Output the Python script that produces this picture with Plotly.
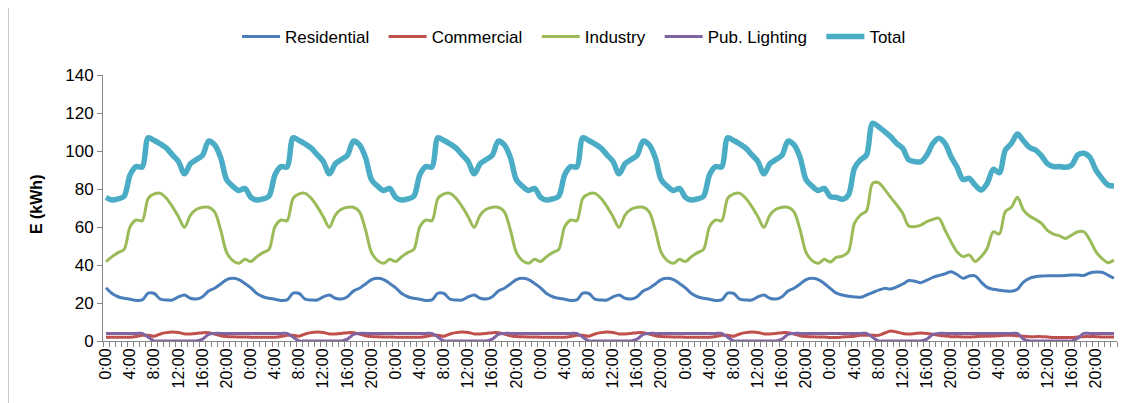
import plotly.graph_objects as go

# ---------------- data ----------------
n_weekdays = 5
label_hours = ["0:00", "4:00", "8:00", "12:00", "16:00", "20:00"]
label_step = 4

weekday_residential = [28, 25, 23.3, 22.5, 22, 21.3, 21.6, 25.2, 25, 22, 21.6, 21.6,
                       23.2, 24.2, 22.5, 22.1, 23.3, 26.3, 27.8, 30, 32.3, 33, 32.3, 30.3]
weekday_commercial = [2, 2, 2, 2, 2, 2.4, 3, 3, 2.5, 3.7, 4.4, 4.7,
                      4.5, 3.7, 3.7, 4, 4.4, 4.4, 3.6, 2.8, 2.4, 2.2, 2.1, 2.1]
weekday_industry = [41.8, 44.4, 46.5, 48.2, 60.2, 63.7, 63.3, 75.1, 77.4, 77.7, 75.1, 70.7,
                    65.4, 59.8, 66.3, 69.3, 70.4, 70.4, 68, 58.4, 46.5, 42.3, 40.9, 43]
weekday_publighting = [4, 4, 4, 4, 4, 4, 4, 2, 0, 0, 0, 0,
                       0, 0, 0, 0, 1, 3.5, 4, 4, 4, 4, 4, 4]
weekday_total = [75.6, 74.2, 74.8, 76.2, 87.5, 91.8, 91.6, 107, 105.5, 103.7, 101.5, 98,
                 94.5, 88, 93.3, 95.5, 97.8, 105.2, 103.2, 96.5, 84.8, 81.5, 79.2, 80.3]

day6_residential = [27.7, 25.2, 24.2, 23.5, 23.2, 23, 24.2, 25.5, 26.8, 27.7, 27.4, 28.5,
                    30, 31.8, 31.5, 30.7, 32, 33.5, 34.5, 35.3, 36.5, 35, 33, 34.2]
day6_commercial = [1.8, 1.9, 2.1, 2.3, 2.5, 3, 3, 3, 3, 4.2, 5.3, 4.7,
                   4, 3.7, 3.9, 4.2, 4, 3.5, 3, 2.6, 2.3, 2.3, 2.1, 2.1]
day6_industry = [41.6, 44, 44.7, 47, 61.9, 66.3, 68.5, 83, 83.3, 79.8, 75.6, 71.6,
                 67.2, 60.5, 60.2, 61, 62.8, 64, 64.6, 58.4, 52.3, 47, 44.4, 45.3]
day6_publighting = [4, 4, 4, 4, 4, 4, 4, 2, 0, 0, 0, 0,
                    0, 0, 0, 0, 1, 3.5, 4, 4, 4, 4, 4, 4]
day6_total = [76, 75.6, 74.6, 76.8, 90.9, 95.3, 97.9, 114.6, 112.8, 110.2, 107.5, 104,
              101.4, 95.3, 94.4, 94.4, 97.9, 104, 106.7, 104, 97, 91.5, 85, 85.6]

day7_residential = [34.3, 31, 28.2, 27.2, 26.7, 26.3, 26.2, 27.2, 31, 33, 33.8, 34.2,
                    34.3, 34.4, 34.4, 34.5, 34.7, 34.7, 34.5, 35.8, 36.3, 36.2, 34.7, 33]
day7_commercial = [2.3, 2.5, 2.5, 2.6, 2.8, 3, 3, 2.8, 2.5, 2.3, 2.3, 2.3,
                   2.1, 1.9, 1.8, 1.8, 1.9, 2.1, 2.3, 2.3, 2.3, 2.1, 2.1, 2.1]
day7_industry = [41.8, 44.4, 48.8, 57.5, 56.3, 68.1, 70.4, 75.6, 68.9, 65.8, 64, 61.9,
                 58.1, 56.3, 55.3, 54, 55.8, 57.5, 57.5, 53.2, 47, 43.5, 41.2, 42.6]
day7_publighting = [4, 4, 4, 4, 4, 4, 4, 4, 1, 0, 0, 0,
                    0, 0, 0, 0, 0, 1.5, 4, 4, 4, 4, 4, 4]
day7_total = [82.1, 79.5, 83, 90.4, 88.6, 100.5, 104, 108.9, 105.4, 101.9, 100.5, 97.4,
              93.2, 91.8, 91.8, 91.4, 92.6, 97.9, 98.8, 96.7, 90, 85.6, 82.1, 81.6]

series_names = ["Residential", "Commercial", "Industry", "Pub. Lighting", "Total"]
series_colors = ["#4A7EBB", "#C0504D", "#9BBB59", "#8064A2", "#4BACC6"]
series_widths = [3, 3, 3, 3, 5.5]

# ---------------- build series ----------------
residential = weekday_residential * n_weekdays + day6_residential + day7_residential
commercial = weekday_commercial * n_weekdays + day6_commercial + day7_commercial
industry = weekday_industry * n_weekdays + day6_industry + day7_industry
publighting = weekday_publighting * n_weekdays + day6_publighting + day7_publighting
total = weekday_total * n_weekdays + day6_total + day7_total
all_series = [residential, commercial, industry, publighting, total]

n_points = len(total)
hours_per_day = len(weekday_total)
x = list(range(n_points))
tickvals = list(range(0, n_points, label_step))
ticktext = [label_hours[(v % hours_per_day) // label_step] for v in tickvals]

pad = "\u00a0\u00a0"  # a little extra spacing between legend entries

fig = go.Figure()
for name, ys, col, w in zip(series_names, all_series, series_colors, series_widths):
    fig.add_trace(go.Scatter(
        x=x, y=ys, name=name + pad, mode="lines",
        line=dict(color=col, width=w, shape="spline", smoothing=0.9),
    ))

axis_col = "#868686"
# the page body has an 8px margin, so the figure is sized/offset to compensate
fig.update_layout(
    width=1125, height=395,
    margin=dict(l=95, r=16, t=67, b=62, autoexpand=False),
    paper_bgcolor="white", plot_bgcolor="white",
    font=dict(family="Liberation Sans, Arial, sans-serif", size=16, color="#000000"),
    showlegend=True,
    legend=dict(
        orientation="h", x=0.469, xanchor="center", y=1.143, yanchor="middle",
        itemwidth=38,
        font=dict(family="Liberation Sans, Arial", size=17, color="#000000"),
        bgcolor="rgba(0,0,0,0)",
    ),
    xaxis=dict(
        range=[-0.5, n_points - 0.5],
        tickmode="array", tickvals=tickvals, ticktext=ticktext,
        tickangle=-90, ticks="", showgrid=False, zeroline=False,
        showline=True, linecolor=axis_col, linewidth=1,
        tickfont=dict(size=16),
        minor=dict(ticks="outside", tickmode="linear", tick0=-0.5, dtick=1,
                   ticklen=5, tickcolor=axis_col, showgrid=False),
        automargin=False,
    ),
    yaxis=dict(
        range=[0, 140], dtick=20, tick0=0,
        ticks="outside", ticklen=5, tickcolor=axis_col,
        showgrid=False, zeroline=False,
        showline=True, linecolor=axis_col, linewidth=1,
        tickfont=dict(size=17),
        automargin=False,
    ),
    annotations=[dict(
        text="<b>E (kWh)</b>", textangle=-90, showarrow=False,
        xref="paper", yref="paper", x=-0.066, y=0.515,
        xanchor="center", yanchor="middle",
        font=dict(size=16, color="#000000"),
    )],
    shapes=[dict(
        type="line", xref="paper", yref="paper",
        x0=-0.0932, x1=-0.0932, y0=-0.233, y1=1.252,
        line=dict(color="#C8C8C8", width=1),
    )],
)

fig.write_html("out.html")
